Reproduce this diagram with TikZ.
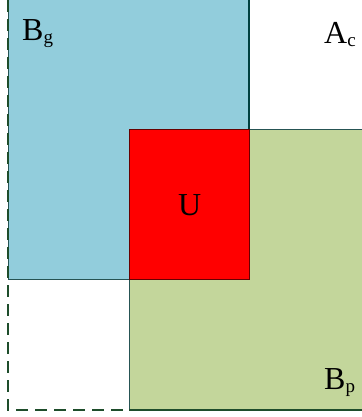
\documentclass[tikz,border=0pt]{standalone}
\usepackage{fontspec}
\setmainfont{Liberation Serif}
\newcommand\mysub[1]{\raisebox{-3pt}{\fontsize{19}{19}\selectfont #1}}
\begin{document}
\begin{tikzpicture}[x=1pt,y=-1pt,
  lbl/.style={anchor=base west,inner sep=0pt,font=\fontsize{32}{32}\selectfont},
  edge/.style={draw=black!50!teal!70!gray,line width=1pt}]
\definecolor{bluef}{HTML}{92CDDC}
\definecolor{greenf}{HTML}{C3D69B}
\definecolor{dashc}{HTML}{1E4D2B}
\useasboundingbox (0,0) rectangle (361,417);
\fill[white] (0,0) rectangle (361,417);
% B_g region
\path[fill=bluef,edge] (8,-3) rectangle (249,279);
% B_p region
\path[fill=greenf,edge] (129,129) rectangle (364,410);
\draw[dashc,line width=1.2pt] (129,410) -- (364,410);
% U region
\path[fill=red,draw=black!60!red,line width=1pt] (129,129) rectangle (249,279);
\draw[black!50!teal,line width=1.2pt] (249,-3) -- (249,129);
% dashed complement
\draw[dashc,line width=1.4pt,dash pattern=on 12pt off 7pt] (8,0) -- (8,410) -- (129,410);
\node[lbl] (bg) at (22,41) {B\mysub{g}};
\node[lbl] (ac) at (324,44) {A\mysub{c}};
\node[lbl] (bp) at (324,389) {B\mysub{p}};
\node[lbl] (u) at (178,215) {U};
\end{tikzpicture}
\end{document}
